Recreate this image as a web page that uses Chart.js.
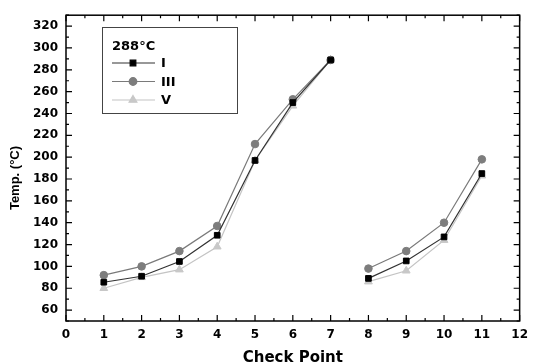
<!DOCTYPE html>
<html>
<head>
<meta charset="utf-8">
<script src="https://cdn.jsdelivr.net/npm/chart.js@4.4.0/dist/chart.umd.min.js"></script>
<style>
  html, body { margin: 0; padding: 0; background: #fff; }
  #wrap { width: 535px; height: 362px; }
</style>
</head>
<body>
<div id="wrap"><canvas id="tempChart"></canvas></div>
<script>
// valores
const checkPoints = [1, 2, 3, 4, 5, 6, 7, 8, 9, 10, 11];
const seriesI   = [85.5, 91, 104.5, 128.5, 197, 250, 289, 89, 105, 127, 185];
const seriesIII = [92, 100, 114, 137, 212, 253, 289, 98, 114, 140, 198];
const seriesV   = [80, 90, 97, 118, 197, 247, 289, 86, 96, 124, 183];
const seriesNames = ['I', 'III', 'V'];
const legendTitle = '288°C';
const yTitle = 'Temp. (°C)';
const xTicks = [0, 1, 2, 3, 4, 5, 6, 7, 8, 9, 10, 11, 12];
const yTicks = [60, 80, 100, 120, 140, 160, 180, 200, 220, 240, 260, 280, 300, 320];
const breakAfter = 7; // no hay linea entre el punto 7 y el 8

const tickFont = { family: 'DejaVu Sans', size: 12, weight: 'bold' };

function toPoints(values) {
    return checkPoints.map((cp, i) => ({ x: cp, y: values[i] }));
}

function makeDataset(label, values, lineColor, pointColor, pointStyle, radius) {
    return {
        label: label,
        data: toPoints(values),
        borderColor: lineColor,
        borderWidth: 1.2,
        pointStyle: pointStyle,
        pointRadius: radius,
        pointBackgroundColor: pointColor,
        pointBorderColor: pointColor,
        pointBorderWidth: 1,
        segment: {
            borderColor: ctx => ctx.p0.parsed.x === breakAfter ? 'rgba(0,0,0,0)' : undefined
        }
    };
}

// marco con ticks hacia adentro en los cuatro lados
const frameTicks = {
    id: 'frameTicks',
    afterDraw(chart) {
        const { ctx, chartArea: a, scales: { x, y } } = chart;
        ctx.save();
        ctx.strokeStyle = '#000';
        ctx.lineWidth = 1.5;
        ctx.strokeRect(a.left, a.top, a.right - a.left, a.bottom - a.top);
        ctx.lineWidth = 1.2;
        ctx.beginPath();
        xTicks.forEach((v, i) => {
            const px = x.getPixelForValue(v);
            ctx.moveTo(px, a.bottom); ctx.lineTo(px, a.bottom - 6);
            ctx.moveTo(px, a.top); ctx.lineTo(px, a.top + 6);
            if (i < xTicks.length - 1) {
                const mx = x.getPixelForValue((v + xTicks[i + 1]) / 2);
                ctx.moveTo(mx, a.bottom); ctx.lineTo(mx, a.bottom - 3);
                ctx.moveTo(mx, a.top); ctx.lineTo(mx, a.top + 3);
            }
        });
        yTicks.forEach((v, i) => {
            const py = y.getPixelForValue(v);
            ctx.moveTo(a.left, py); ctx.lineTo(a.left + 6, py);
            ctx.moveTo(a.right, py); ctx.lineTo(a.right - 6, py);
            const minors = [v - 10];
            if (i === yTicks.length - 1) minors.push(v + 10);
            minors.forEach(m => {
                const my = y.getPixelForValue(m);
                ctx.moveTo(a.left, my); ctx.lineTo(a.left + 3, my);
                ctx.moveTo(a.right, my); ctx.lineTo(a.right - 3, my);
            });
        });
        ctx.stroke();

        // titulo del eje y, un poco mas abajo del centro como en la figura
        ctx.fillStyle = '#000';
        ctx.font = 'bold 13px "Liberation Sans"';
        ctx.textAlign = 'center';
        ctx.textBaseline = 'middle';
        ctx.translate(15, 178);
        ctx.rotate(-Math.PI / 2);
        ctx.fillText(yTitle, 0, 0);
        ctx.restore();
    }
};

// leyenda en recuadro dentro del area
const boxLegend = {
    id: 'boxLegend',
    afterDraw(chart) {
        const ctx = chart.ctx;
        const left = 102, top = 27, w = 135, h = 86;
        ctx.save();
        ctx.strokeStyle = '#444';
        ctx.lineWidth = 1;
        ctx.strokeRect(left + 0.5, top + 0.5, w, h);
        ctx.fillStyle = '#000';
        ctx.font = 'bold 13px "DejaVu Sans"';
        ctx.textBaseline = 'middle';
        ctx.textAlign = 'left';
        ctx.fillText(legendTitle, 112, 47);
        chart.data.datasets.forEach((ds, i) => {
            const ly = 63 + i * 18.5;
            ctx.strokeStyle = ds.borderColor;
            ctx.lineWidth = 1.2;
            ctx.beginPath();
            ctx.moveTo(112, ly); ctx.lineTo(155, ly);
            ctx.stroke();
            ctx.fillStyle = ds.pointBackgroundColor;
            ctx.strokeStyle = ds.pointBorderColor;
            Chart.helpers.drawPoint(ctx, {
                pointStyle: ds.pointStyle,
                radius: ds.pointRadius,
                rotation: 0,
                borderWidth: 1
            }, 133, ly);
            ctx.fillStyle = '#000';
            ctx.font = 'bold 13px "DejaVu Sans"';
            ctx.fillText(ds.label, 161, ly + 1);
        });
        ctx.restore();
    }
};

const config = {
    type: 'line',
    data: {
        datasets: [
            makeDataset(seriesNames[0], seriesI, '#333333', '#000000', 'rect', 4),
            makeDataset(seriesNames[1], seriesIII, '#7a7a7a', '#7d7d7d', 'circle', 3.8),
            makeDataset(seriesNames[2], seriesV, '#c4c4c4', '#c8c8c8', 'triangle', 4.5)
        ]
    },
    options: {
        responsive: true,
        maintainAspectRatio: false,
        animation: false,
        layout: { padding: { top: 11, right: 8, left: 0, bottom: 0 } },
        plugins: {
            legend: { display: false },
            tooltip: { enabled: false }
        },
        scales: {
            x: {
                type: 'linear',
                min: 0,
                max: 12,
                afterBuildTicks: s => { s.ticks = xTicks.map(v => ({ value: v })); },
                afterFit: s => { s.height = 41; },
                grid: { display: false, drawTicks: false },
                border: { display: false },
                ticks: { font: tickFont, color: '#000', padding: 7, maxRotation: 0, autoSkip: false },
                title: {
                    display: true,
                    text: 'Check Point',
                    color: '#000',
                    font: { family: 'DejaVu Sans', size: 15, weight: 'bold', lineHeight: 1 },
                    padding: { top: 0, bottom: -4 }
                }
            },
            y: {
                min: 50,
                max: 330,
                afterBuildTicks: s => { s.ticks = yTicks.map(v => ({ value: v })); },
                afterFit: s => { s.width = 66; },
                grid: { display: false, drawTicks: false },
                border: { display: false },
                ticks: { font: tickFont, color: '#000', padding: 8, autoSkip: false },
                title: { display: false }
            }
        }
    },
    plugins: [frameTicks, boxLegend]
};

const tempChart = new Chart(document.getElementById('tempChart').getContext('2d'), config);
</script>
</body>
</html>
